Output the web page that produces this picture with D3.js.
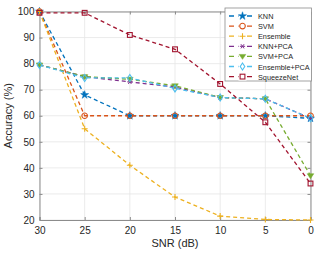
<!DOCTYPE html>
<html><head><meta charset="utf-8">
<script src="https://cdn.jsdelivr.net/npm/d3@7"></script>
<style>body{margin:0;background:#fff}svg{display:block}text{font-family:"Liberation Sans",Arial,sans-serif}</style>
</head><body><svg id="c" width="318" height="255"></svg>
<script>
const snr = [30, 25, 20, 15, 10, 5, 0];
const xTicks = [30, 25, 20, 15, 10, 5, 0];
const yTicks = [20, 30, 40, 50, 60, 70, 80, 90, 100];
const names = ["KNN", "SVM", "Ensemble", "KNN+PCA", "SVM+PCA", "Ensemble+PCA", "SqueezeNet"];
const colors = ["#0072BD", "#D95319", "#EDB120", "#7E2F8E", "#77AC30", "#4DBEEE", "#A2142F"];
const markers = ["star", "circle", "plus", "asterisk", "triangleDown", "diamond", "square"];
const knn = [100, 68, 60, 60, 60, 60, 59];
const svm = [100, 60, 60, 60, 60, 60, 60];
const ensemble = [100, 55, 41, 28.8, 21.5, 20.2, 20];
const knnPca = [79.5, 75, 73, 71, 67, 66.5, 59];
const svmPca = [79.5, 75, 74, 71.5, 67, 66.5, 37];
const ensPca = [79.5, 74.5, 74.5, 70.5, 67, 66.5, 59];
const squeeze = [99.5, 99.5, 91, 85.5, 72.2, 57.5, 34];
const series = [knn, svm, ensemble, knnPca, svmPca, ensPca, squeeze];

const svg = d3.select("#c");
const L = 39.5, R = 310.5, T = 11.5, B = 220;
const x = d3.scaleLinear().domain([30, 0]).range([L, R]);
const y = d3.scaleLinear().domain([20, 100]).range([B, T]);

const g = svg.append("g");
g.selectAll(".vg").data(xTicks).join("line").attr("x1", d => x(d)).attr("x2", d => x(d))
  .attr("y1", T).attr("y2", B).attr("stroke", "#e6e6e6").attr("stroke-width", 0.8);
g.selectAll(".hg").data(yTicks).join("line").attr("y1", d => y(d)).attr("y2", d => y(d))
  .attr("x1", L).attr("x2", R).attr("stroke", "#e6e6e6").attr("stroke-width", 0.8);

const xa = svg.append("g").attr("transform", `translate(0,${B})`)
  .call(d3.axisBottom(x).tickValues(xTicks).tickSize(-3).tickPadding(7).tickFormat(d3.format("d")));
const xa2 = svg.append("g").attr("transform", `translate(0,${T})`)
  .call(d3.axisTop(x).tickValues(xTicks).tickSize(-3).tickFormat(""));
const ya = svg.append("g").attr("transform", `translate(${L},0)`)
  .call(d3.axisLeft(y).tickValues(yTicks).tickSize(-3).tickPadding(5));
const ya2 = svg.append("g").attr("transform", `translate(${R},0)`)
  .call(d3.axisRight(y).tickValues(yTicks).tickSize(-3).tickFormat(""));
[xa, xa2, ya, ya2].forEach(a => {
  a.selectAll("path.domain").attr("stroke", "#8c8c8c").attr("stroke-width", 1);
  a.selectAll(".tick line").attr("stroke", "#8c8c8c");
  a.selectAll("text").attr("font-size", 10).attr("fill", "#262626");
});

svg.append("text").attr("x", (L + R) / 2).attr("y", 247).attr("text-anchor", "middle")
  .attr("font-size", 11).attr("fill", "#262626").text("SNR (dB)");
svg.append("text").attr("transform", `translate(12,${(T + B) / 2}) rotate(-90)`).attr("text-anchor", "middle")
  .attr("font-size", 11).attr("fill", "#262626").text("Accuracy (%)");

function drawMarker(sel, type, color) {
  if (type === "star") {
    sel.append("path").attr("d", d3.symbol(d3.symbolStar, 20)()).attr("fill", color).attr("stroke", color).attr("stroke-width", 0.5);
  } else if (type === "circle") {
    sel.append("circle").attr("r", 2.8).attr("fill", "none").attr("stroke", color).attr("stroke-width", 1.1);
  } else if (type === "plus") {
    sel.append("path").attr("d", "M-3,0H3M0,-3V3").attr("stroke", color).attr("stroke-width", 1.1);
  } else if (type === "asterisk") {
    const a = 2.6;
    sel.append("path").attr("d", `M${-a},0H${a}M${-a*0.6},${-a*0.8}L${a*0.6},${a*0.8}M${a*0.6},${-a*0.8}L${-a*0.6},${a*0.8}`).attr("stroke", color).attr("stroke-width", 1);
  } else if (type === "triangleDown") {
    const a = 3.3;
    sel.append("path").attr("d", `M${-a},${-a*0.6}L${a},${-a*0.6}L0,${a*0.9}Z`).attr("fill", color).attr("stroke", color).attr("stroke-width", 0.5);
  } else if (type === "diamond") {
    const a = 3.5;
    sel.append("path").attr("d", `M0,${-a}L${a*0.65},0L0,${a}L${-a*0.65},0Z`).attr("fill", "none").attr("stroke", color).attr("stroke-width", 1.1);
  } else if (type === "square") {
    const a = 2.4;
    sel.append("rect").attr("x", -a).attr("y", -a).attr("width", 2 * a).attr("height", 2 * a).attr("fill", "none").attr("stroke", color).attr("stroke-width", 1.1);
  }
}

const line = d3.line().x((d, i) => x(snr[i])).y(d => y(d));
series.forEach((vals, k) => {
  svg.append("path").datum(vals).attr("d", line).attr("fill", "none")
    .attr("stroke", colors[k]).attr("stroke-width", 1.3).attr("stroke-dasharray", "4,3");
});
series.forEach((vals, k) => {
  vals.forEach((v, i) => {
    const mg = svg.append("g").attr("transform", `translate(${x(snr[i])},${y(v)})`);
    drawMarker(mg, markers[k], colors[k]);
  });
});

const lg = svg.append("g");
lg.append("rect").attr("x", 225).attr("y", 8).attr("width", 86.5).attr("height", 73)
  .attr("fill", "#fff").attr("stroke", "#8c8c8c").attr("stroke-width", 0.8);
names.forEach((n, k) => {
  const yy = 16 + k * 10.1;
  lg.append("line").attr("x1", 229).attr("x2", 256).attr("y1", yy).attr("y2", yy)
    .attr("stroke", colors[k]).attr("stroke-width", 1.3).attr("stroke-dasharray", "5,4");
  const mg = lg.append("g").attr("transform", `translate(242.5,${yy})`);
  mg.append("rect").attr("x", -4).attr("y", -4).attr("width", 8).attr("height", 8).attr("fill", "#fff");
  drawMarker(mg, markers[k], colors[k]);
  lg.append("text").attr("x", 258).attr("y", yy + 3).attr("font-size", 7.3).attr("fill", "#262626").text(n);
});
</script></body></html>
